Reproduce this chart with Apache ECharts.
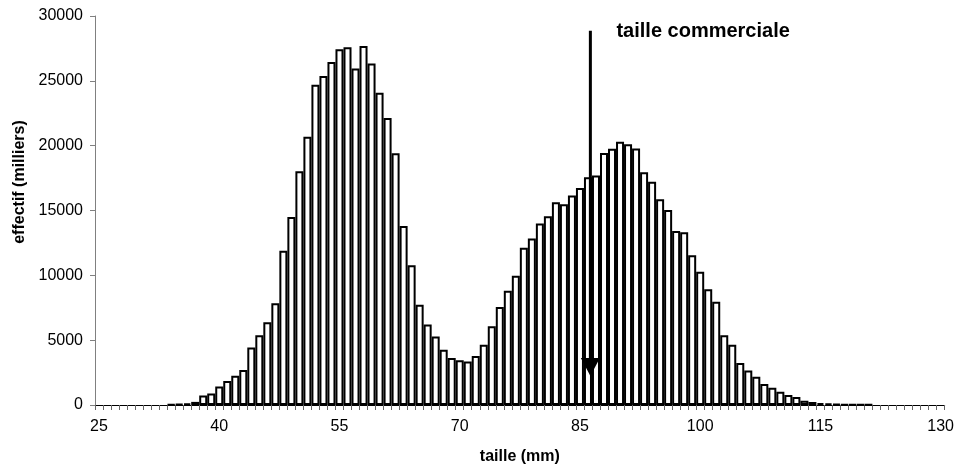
<!DOCTYPE html>
<html>
<head>
<meta charset="utf-8">
<script src="https://cdn.jsdelivr.net/npm/echarts@6/dist/echarts.min.js"></script>
<style>
html,body{margin:0;padding:0;background:#fff;}
#chart{width:957px;height:470px;}
</style>
</head>
<body>
<div id="chart"></div>
<script>
// categories: taille (mm), one class per millimetre
const categories = [];
for (let v = 25; v <= 130; v++) categories.push(String(v));

// effectif (milliers) per class, 25 .. 130 mm
const valuesLow = [0, 0, 0, 0, 0, 0, 0, 0, 0];            // 25-33
const valuesMain = [
  50, 70, 130, 240, 730, 890, 1420, 1850, 2260, 2690,      // 34-43
  4440, 5380, 6380, 7850, 11900, 14500, 18020, 20690, 24690, 25380, // 44-53
  26460, 27440, 27590, 25950, 27690, 26330, 24080, 22130, 19410, 13800, // 54-63
  10770, 7740, 6210, 5280, 4260, 3620, 3460, 3360, 3770, 4640, // 64-73
  6080, 7560, 8820, 9970, 12130, 12850, 14000, 14560, 15640, 15480, // 74-83
  16150, 16740, 17560, 17690, 19440, 19770, 20310, 20100, 19790, 17950, // 84-93
  17210, 15870, 15030, 13410, 13330, 11540, 10280, 8920, 7960, 5380, // 94-103
  4640, 3230, 2670, 2180, 1620, 1330, 1030, 770, 615, 330,  // 104-113
  230, 150, 130, 80, 50, 40, 30, 20                        // 114-121
];
const valuesHigh = [0, 0, 0, 0, 0, 0, 0, 0, 0];           // 122-130
const effectif = valuesLow.concat(valuesMain, valuesHigh);

// y tick values
const yTicks = [0, 5000, 10000, 15000, 20000, 25000, 30000];

// annotation: commercial size arrow
const arrowX = 86.3;        // mm
const arrowTop = 28870;     // effectif
const arrowTip = 2230;      // effectif
const annotationText = 'taille commerciale';

const FONT = '"Liberation Sans", Arial, Helvetica, sans-serif';

const chart = echarts.init(document.getElementById('chart'), null, {renderer: 'canvas'});

chart.setOption({
  animation: false,
  backgroundColor: '#fff',
  grid: {left: 95, right: 10, top: 16, bottom: 64, containLabel: false},
  xAxis: [{
    type: 'category',
    data: categories,
    boundaryGap: true,
    name: 'taille (mm)',
    nameLocation: 'middle',
    nameGap: 44,
    nameTextStyle: {fontFamily: FONT, fontSize: 16, fontWeight: 'bold', color: '#000'},
    axisLine: {lineStyle: {color: '#000', width: 1}},
    axisTick: {show: true, interval: 0, alignWithLabel: false, length: 5, inside: false,
               lineStyle: {color: '#666', width: 1}},
    axisLabel: {interval: 14, margin: 14, fontFamily: FONT, fontSize: 16, color: '#000'},
    splitLine: {show: false}
  }, {
    type: 'value',
    min: 24.5,
    max: 130.5,
    show: false
  }],
  yAxis: {
    type: 'value',
    min: yTicks[0],
    max: yTicks[yTicks.length - 1],
    interval: yTicks[1] - yTicks[0],
    name: 'effectif (milliers)',
    nameLocation: 'middle',
    nameRotate: 90,
    nameGap: 66,
    nameTextStyle: {fontFamily: FONT, fontSize: 16, fontWeight: 'bold', color: '#000',
                    padding: [0, 0, 0, 57]},
    axisLine: {show: true, lineStyle: {color: '#808080', width: 1}},
    axisTick: {show: true, length: 5, lineStyle: {color: '#808080', width: 1}},
    axisLabel: {margin: 12, fontFamily: FONT, fontSize: 16, color: '#000',
                formatter: function (v) { return String(v); }},
    splitLine: {show: false}
  },
  series: [{
    type: 'bar',
    xAxisIndex: 0,
    data: effectif.map(function (v) { return v === 0 ? '-' : v; }),
    barCategoryGap: '0%',
    itemStyle: {color: '#fff', borderColor: '#000', borderWidth: 2}
  }]
});

function drawAnnotation() {
  const px = chart.convertToPixel({xAxisIndex: 1}, arrowX);
  const yTop = chart.convertToPixel({yAxisIndex: 0}, arrowTop);
  const yTip = chart.convertToPixel({yAxisIndex: 0}, arrowTip);
  const headH = 18, headW = 19;
  const tx = chart.convertToPixel({xAxisIndex: 1}, 89.55);
  const ty = chart.convertToPixel({yAxisIndex: 0}, 28820);
  chart.setOption({
    graphic: [
      {type: 'line', shape: {x1: px, y1: yTop, x2: px, y2: yTip - headH + 1},
       style: {stroke: '#000', lineWidth: 3}, z: 100},
      {type: 'polygon', shape: {points: [[px - headW / 2, yTip - headH], [px + headW / 2, yTip - headH], [px, yTip]]},
       style: {fill: '#000'}, z: 100},
      {type: 'text', x: tx, y: ty,
       style: {text: annotationText, font: 'bold 20px ' + FONT, fill: '#000',
               textAlign: 'left', textVerticalAlign: 'middle'}, z: 100}
    ]
  });
}
drawAnnotation();
</script>
</body>
</html>
